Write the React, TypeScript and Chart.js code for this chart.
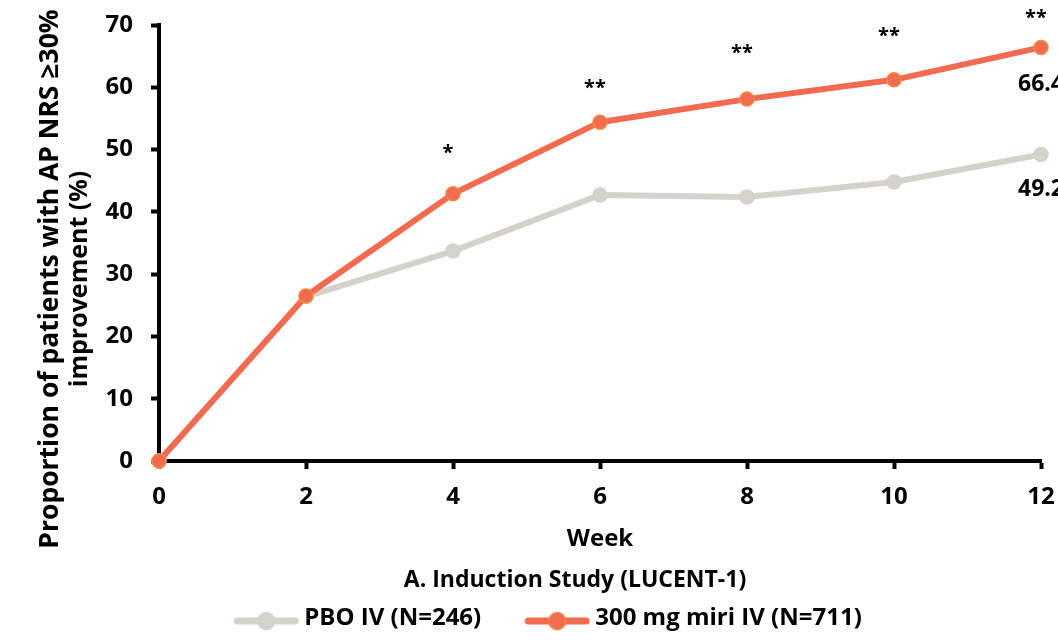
import React, { useEffect, useRef } from 'react';
import { Chart, registerables } from 'chart.js';

Chart.register(...registerables);

// ---- data ----
const weeks = [0, 2, 4, 6, 8, 10, 12];
const pboValues = [0, 26.4, 33.7, 42.7, 42.4, 44.8, 49.2];
const miriValues = [0, 26.5, 42.9, 54.4, 58.1, 61.2, 66.4];
const significance = ['', '', '*', '**', '**', '**', '**'];
const starLevels = [null, null, 49.4, 59.9, 65.5, 68.2, 71.0];
const seriesLabels = ['PBO IV (N=246)', '300 mg miri IV (N=711)'];
const yTitleLines = ['Proportion of patients with AP NRS \u226530%', 'improvement (%)'];
const xTitleText = 'Week';
const panelTitle = 'A. Induction Study (LUCENT-1)';
const yRange = [0, 70];
const yStep = 10;
const xRange = [0, 12];
const xStep = 2;

// ---- styles ----
const FONT = "'Open Sans', sans-serif";
const GRAY = '#D4D2CA';
const ORANGE = '#F26B50';
const ORANGE_EDGE = '#F08A3E';
const INK = '#000000';

function makeLegendIcon(color: string, edge: string) {
  const c = document.createElement('canvas');
  c.width = 66;
  c.height = 26;
  const g = c.getContext('2d')!;
  g.strokeStyle = color;
  g.lineWidth = 7;
  g.lineCap = 'round';
  g.beginPath();
  g.moveTo(4, 16);
  g.lineTo(62, 16);
  g.stroke();
  g.beginPath();
  g.arc(33, 16, 8.5, 0, Math.PI * 2);
  g.fillStyle = color;
  g.fill();
  g.lineWidth = 1.5;
  g.strokeStyle = edge;
  g.stroke();
  return c;
}

const annotationPlugin = {
  id: 'figureAnnotations',
  afterDraw(chart: any) {
    const { ctx, chartArea, scales } = chart;
    const xs = scales.x;
    const ys = scales.y;
    ctx.save();
    ctx.fillStyle = INK;

    // significance stars above the miri series
    ctx.font = `bold 20px ${FONT}`;
    ctx.textAlign = 'center';
    ctx.textBaseline = 'middle';
    weeks.forEach((w, i) => {
      const s = significance[i];
      const lvl = starLevels[i];
      if (!s || lvl == null) return;
      ctx.fillText(s, xs.getPixelForValue(w) - 5, ys.getPixelForValue(lvl));
    });

    // end-point value labels
    ctx.font = `bold 23px ${FONT}`;
    const last = weeks.length - 1;
    const lx = xs.getPixelForValue(weeks[last]);
    ctx.fillText(miriValues[last].toFixed(1), lx, ys.getPixelForValue(miriValues[last]) + 37);
    ctx.fillText(pboValues[last].toFixed(1), lx, ys.getPixelForValue(pboValues[last]) + 35);

    // panel title under the x-axis title
    ctx.font = `bold 23px ${FONT}`;
    ctx.fillText(panelTitle, (chartArea.left + chartArea.right) / 2 - 25, chartArea.bottom + 119);

    // y-axis title (two lines, rotated)
    const cy = chartArea.top + 254;
    const sizes = [26.5, 25];
    yTitleLines.forEach((line, i) => {
      ctx.save();
      ctx.font = `bold ${sizes[i]}px ${FONT}`;
      ctx.translate(chartArea.left - 109 + i * 30, cy);
      ctx.rotate(-Math.PI / 2);
      ctx.fillText(line, 0, 0);
      ctx.restore();
    });
    ctx.restore();
  },
};

export default function App() {
  const canvasRef = useRef<HTMLCanvasElement | null>(null);

  useEffect(() => {
    const canvas = canvasRef.current;
    if (!canvas) return;
    const icons = [makeLegendIcon(GRAY, GRAY), makeLegendIcon(ORANGE, ORANGE_EDGE)];
    const tickFont = { family: FONT, size: 24, weight: 'bold' as const };
    const gridOpts = {
      display: true,
      drawOnChartArea: false,
      drawTicks: true,
      tickLength: 8,
      tickWidth: 4,
      tickColor: INK,
    };
    const borderOpts = { display: true, color: INK, width: 4 };

    const chart = new Chart(canvas, {
      type: 'line',
      data: {
        datasets: [
          {
            label: seriesLabels[0],
            data: weeks.map((w, i) => ({ x: w, y: pboValues[i] })),
            borderColor: GRAY,
            backgroundColor: GRAY,
            pointBackgroundColor: GRAY,
            pointBorderColor: GRAY,
            pointBorderWidth: 1.5,
            pointRadius: 7,
            borderWidth: 6,
            tension: 0,
            clip: false as any,
            order: 1,
          },
          {
            label: seriesLabels[1],
            data: weeks.map((w, i) => ({ x: w, y: miriValues[i] })),
            borderColor: ORANGE,
            backgroundColor: ORANGE,
            pointBackgroundColor: ORANGE,
            pointBorderColor: ORANGE_EDGE,
            pointBorderWidth: 1.5,
            pointRadius: 7,
            borderWidth: 6,
            tension: 0,
            clip: false as any,
            order: 0,
          },
        ],
      },
      options: {
        animation: false,
        responsive: false,
        layout: { padding: { left: 61, right: 59, top: 25, bottom: 0 } },
        scales: {
          x: {
            type: 'linear',
            min: xRange[0],
            max: xRange[1],
            ticks: { stepSize: xStep, padding: 14, color: INK, font: tickFont },
            grid: gridOpts,
            border: borderOpts,
            title: {
              display: true,
              text: xTitleText,
              color: INK,
              font: { family: FONT, size: 24, weight: 'bold' },
              padding: { top: 0, bottom: 2 },
            },
            afterFit: (s: any) => {
              s.height = 95;
            },
          },
          y: {
            type: 'linear',
            min: yRange[0],
            max: yRange[1],
            ticks: { stepSize: yStep, padding: 18, color: INK, font: tickFont },
            grid: gridOpts,
            border: borderOpts,
            afterFit: (s: any) => {
              s.width = 98;
              s.paddingTop = 0;
              s.paddingBottom = 0;
            },
          },
        },
        plugins: {
          legend: {
            position: 'bottom',
            labels: {
              usePointStyle: true,
              pointStyleWidth: 52,
              padding: 50,
              color: INK,
              font: { family: FONT, size: 24, weight: 'bold' },
              sort: (a: any, b: any) => a.datasetIndex - b.datasetIndex,
              generateLabels: (c: any) => {
                const items = (Chart.defaults.plugins.legend.labels as any).generateLabels(c);
                return items.map((it: any) => ({
                  ...it,
                  pointStyle: icons[it.datasetIndex],
                  fontColor: INK,
                }));
              },
            },
          },
          tooltip: { enabled: false },
        },
      },
      plugins: [annotationPlugin],
    } as any);

    return () => chart.destroy();
  }, []);

  return (
    <div
      style={{
        position: 'fixed',
        left: 0,
        top: 0,
        width: 1058,
        height: 640,
        overflow: 'hidden',
        background: '#ffffff',
      }}
    >
      <canvas ref={canvasRef} width={1100} height={640} style={{ display: 'block' }} />
    </div>
  );
}
